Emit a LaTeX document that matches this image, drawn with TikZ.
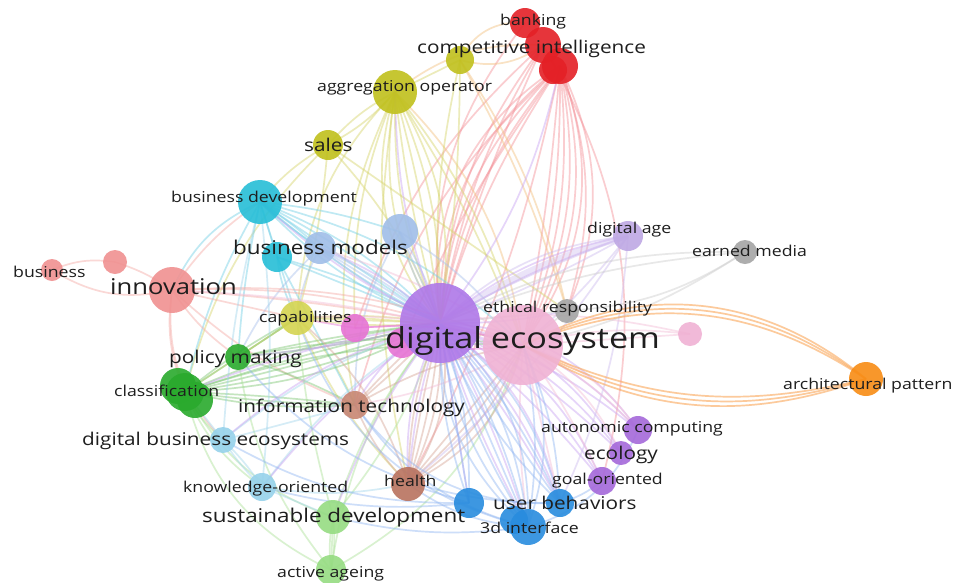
\documentclass[tikz,border=0pt]{standalone}
\usepackage{fontspec}
\setmainfont{Open Sans}[FakeStretch=1.18]
\definecolor{cRed}{RGB}{228,32,38}
\definecolor{cRedE}{RGB}{244,145,152}
\definecolor{cOlive}{RGB}{192,192,28}
\definecolor{cOliveL}{RGB}{212,212,80}
\definecolor{cOliveE}{RGB}{214,212,105}
\definecolor{cPeach}{RGB}{242,192,125}
\definecolor{cCyan}{RGB}{38,190,215}
\definecolor{cCyanE}{RGB}{115,208,230}
\definecolor{cSteel}{RGB}{160,190,232}
\definecolor{cSteelE}{RGB}{168,192,236}
\definecolor{cSalmon}{RGB}{240,145,145}
\definecolor{cSalmonE}{RGB}{245,170,165}
\definecolor{cGreen}{RGB}{42,170,45}
\definecolor{cGreenE}{RGB}{125,198,115}
\definecolor{cLGreen}{RGB}{150,220,130}
\definecolor{cLGreenE}{RGB}{172,226,152}
\definecolor{cLCyan}{RGB}{150,210,235}
\definecolor{cLCyanE}{RGB}{162,214,236}
\definecolor{cBrown}{RGB}{185,115,95}
\definecolor{cBrownL}{RGB}{200,135,115}
\definecolor{cBrownE}{RGB}{214,165,150}
\definecolor{cBlue}{RGB}{40,140,222}
\definecolor{cBlueE}{RGB}{145,182,242}
\definecolor{cPurple}{RGB}{175,120,232}
\definecolor{cPurpleE}{RGB}{200,162,242}
\definecolor{cPink}{RGB}{240,178,212}
\definecolor{cPinkE}{RGB}{243,188,214}
\definecolor{cMagenta}{RGB}{230,115,212}
\definecolor{cGray}{RGB}{165,165,165}
\definecolor{cGrayE}{RGB}{205,205,205}
\definecolor{cOrange}{RGB}{248,140,20}
\definecolor{cOrangeE}{RGB}{250,168,90}
\definecolor{cLav}{RGB}{190,168,228}
\definecolor{cLavE}{RGB}{205,188,238}
\definecolor{cViolet}{RGB}{165,105,218}
\definecolor{txt}{RGB}{30,30,30}
\newcommand\lkb[4]{\foreach \bb in {#4}{\draw[lnk=#1] (#2) to[bend left=\bb] (#3);}}
\begin{document}
\begin{tikzpicture}[x=1pt,y=-1pt,
  lnk/.style={draw=#1,line width=1.7pt,draw opacity=0.45},
  bub/.style 2 args={circle,inner sep=0pt,minimum size=#1,fill=#2,fill opacity=0.9,draw=none},
  lb/.style={anchor=base west,inner sep=0pt,text=txt},
  fsa/.style={font=\fontsize{15}{18}\selectfont},
  fsb/.style={font=\fontsize{17.6}{20}\selectfont},
  fsc/.style={font=\fontsize{19}{22}\selectfont},
  fsd/.style={font=\fontsize{21.7}{25}\selectfont},
  fse/.style={font=\fontsize{29}{33}\selectfont}]
\useasboundingbox[fill=white] (0,0) rectangle (956,582);
% ---------- positions ----------
\coordinate (de1) at (440,323);
\coordinate (de2) at (523,345);
\coordinate (mg1) at (355,328);
\coordinate (mg2) at (402,343);
\coordinate (er) at (567,311);
\coordinate (pr) at (690,334);
\coordinate (da) at (628,236);
\coordinate (em) at (745,252);
\coordinate (ap) at (866,379);
\coordinate (ac) at (638,430);
\coordinate (ec) at (621,453);
\coordinate (go) at (602,481);
\coordinate (ub) at (560,503);
\coordinate (td) at (528,527);
\coordinate (bl) at (469,503);
\coordinate (he) at (408,484);
\coordinate (sd) at (333,517);
\coordinate (aa) at (331,570);
\coordinate (ko) at (262,487);
\coordinate (dbe) at (223,440);
\coordinate (it) at (355,405);
\coordinate (cl) at (185,392);
\coordinate (pm) at (238,357);
\coordinate (cap) at (297,318);
\coordinate (inn) at (172,290);
\coordinate (bus) at (52,270);
\coordinate (s2) at (115,262);
\coordinate (bm) at (320,248);
\coordinate (lb2) at (400,232);
\coordinate (cy2) at (277,257);
\coordinate (bd) at (260,202);
\coordinate (sa) at (328,145);
\coordinate (ag) at (395,92);
\coordinate (y3) at (460,60);
\coordinate (ci) at (543,45);
\coordinate (bk) at (525,23);
\coordinate (r3) at (560,66);
% ---------- links ----------
% red cluster
\lkb{cRedE}{r3}{de1}{-8,-14,-20,-26,-32}
\lkb{cRedE}{r3}{de2}{3,8,13,18,23,28}
\lkb{cRedE}{r3}{er}{18,24}
\lkb{cRedE}{ci}{de1}{-4,-10,-16}
\lkb{cRedE}{ci}{mg1}{-14}
\lkb{cRedE}{bk}{de1}{-22}
\lkb{cRedE}{r3}{he}{8}
\lkb{cRedE}{r3}{it}{-16}
\lkb{cRedE}{ci}{go}{22}
\lkb{cRedE}{r3}{mg2}{-6}
% olive / peach
\lkb{cPeach}{y3}{bk}{35}
\lkb{cPeach}{y3}{ci}{-25}
\lkb{cPeach}{ag}{ci}{20}
\lkb{cPeach}{y3}{er}{6,10}
\lkb{cPeach}{ag}{de2}{18}
\lkb{cOliveE}{ag}{y3}{0}
\lkb{cOliveE}{ag}{sa}{-10,10}
\lkb{cOliveE}{ag}{de1}{-28,-20,-12,-4,4,12,20}
\lkb{cOliveE}{ag}{de2}{6,11}
\lkb{cOliveE}{ag}{cap}{-20}
\lkb{cOliveE}{ag}{it}{-18}
\lkb{cOliveE}{ag}{he}{-10}
\lkb{cOliveE}{ag}{mg1}{-12}
\lkb{cOliveE}{y3}{de1}{-8,4}
\lkb{cOliveE}{sa}{bd}{-10}
\lkb{cOliveE}{sa}{cap}{5}
\lkb{cOliveE}{sa}{er}{0}
\lkb{cOliveE}{sa}{de1}{10}
\lkb{cOliveE}{sa}{cl}{-15}
\lkb{cOliveE}{cap}{de1}{-6,0,6}
\lkb{cOliveE}{cap}{cl}{0}
\lkb{cOliveE}{cap}{pm}{0}
\lkb{cOliveE}{cap}{it}{10}
\lkb{cOliveE}{cap}{he}{-10}
\lkb{cOliveE}{cap}{de2}{8}
% cyan
\lkb{cCyanE}{bd}{de1}{-12,-6,0,6,12}
\lkb{cCyanE}{bd}{bm}{-4,4}
\lkb{cCyanE}{bd}{cy2}{0}
\lkb{cCyanE}{bd}{lb2}{6}
\lkb{cCyanE}{bd}{de2}{14}
\lkb{cCyanE}{bd}{inn}{-20}
\lkb{cCyanE}{bd}{cl}{-8}
\lkb{cCyanE}{bd}{cap}{0}
\lkb{cCyanE}{bd}{pm}{-4}
\lkb{cCyanE}{cy2}{de1}{0,6}
\lkb{cCyanE}{cy2}{cap}{-10}
\lkb{cCyanE}{cy2}{it}{0}
% steel blue
\lkb{cSteelE}{bm}{de1}{-6,0,6}
\lkb{cSteelE}{lb2}{de1}{-8,0,8}
\lkb{cSteelE}{lb2}{de2}{10}
\lkb{cSteelE}{lb2}{it}{-15}
\lkb{cSteelE}{bm}{cap}{-10}
\lkb{cSteelE}{bm}{pm}{-10}
% salmon
\lkb{cSalmonE}{bus}{s2}{15}
\lkb{cSalmonE}{bus}{inn}{-22}
\lkb{cSalmonE}{s2}{inn}{8}
\lkb{cSalmonE}{inn}{de1}{3,9}
\lkb{cSalmonE}{inn}{cap}{0}
\lkb{cSalmonE}{inn}{cl}{-15}
\lkb{cSalmonE}{inn}{pm}{-10}
\lkb{cSalmonE}{inn}{dbe}{-25}
\lkb{cSalmonE}{inn}{bd}{10}
\lkb{cSalmonE}{inn}{it}{-10}
\lkb{cSalmonE}{inn}{de2}{12}
% green
\lkb{cGreenE}{cl}{de1}{-12,-7,-2,3,8}
\lkb{cGreenE}{cl}{it}{-8,-3,2}
\lkb{cGreenE}{cl}{pm}{0}
\lkb{cGreenE}{pm}{de1}{-4,3}
\lkb{cGreenE}{pm}{cap}{0}
\lkb{cGreenE}{cl}{cap}{5}
\lkb{cGreenE}{cl}{de2}{10}
\lkb{cGreenE}{pm}{it}{5}
\lkb{cGreenE}{pm}{de2}{8}
\lkb{cLGreenE}{cl}{dbe}{-10}
\lkb{cLGreenE}{cl}{ko}{-15}
\lkb{cLGreenE}{cl}{sd}{-20}
% light green
\lkb{cLGreenE}{sd}{aa}{-8,0,8}
\lkb{cLGreenE}{sd}{de1}{-10,10}
\lkb{cLGreenE}{sd}{cap}{5}
\lkb{cLGreenE}{aa}{de1}{15}
\lkb{cLGreenE}{aa}{cl}{25}
\lkb{cLGreenE}{aa}{de2}{-20}
\lkb{cLGreenE}{aa}{pm}{15}
% light cyan
\lkb{cLCyanE}{dbe}{ko}{-6,6}
\lkb{cLCyanE}{dbe}{cl}{0}
\lkb{cLCyanE}{dbe}{de1}{10}
\lkb{cLCyanE}{ko}{de1}{10}
\lkb{cLCyanE}{ko}{sd}{0}
\lkb{cLCyanE}{dbe}{it}{0}
\lkb{cLCyanE}{bd}{dbe}{-5}
\lkb{cLCyanE}{bd}{ko}{6}
\lkb{cLCyanE}{ko}{he}{-10}
% brown
\lkb{cBrownE}{it}{de1}{-4,4}
\lkb{cBrownE}{he}{de1}{-22,-14,-6,2,10}
\lkb{cBrownE}{he}{de2}{-24,-16,-8,0}
\lkb{cBrownE}{he}{it}{10}
\lkb{cBrownE}{it}{de2}{10}
\lkb{cBrownE}{he}{cap}{-15}
% purple
\lkb{cPurpleE}{de1}{da}{6,14}
\lkb{cPurpleE}{de1}{ac}{10,18,26}
\lkb{cPurpleE}{de1}{ec}{8,16,24}
\lkb{cPurpleE}{de1}{go}{6,14,22}
\lkb{cPurpleE}{de1}{ub}{4,12,20}
\lkb{cPurpleE}{de1}{td}{-5,5}
\lkb{cPurpleE}{de1}{bl}{0}
\lkb{cPurpleE}{de1}{pm}{4}
\lkb{cPurpleE}{de1}{cl}{-6}
\lkb{cPurpleE}{de1}{he}{-14,-6}
\lkb{cPurpleE}{de1}{sd}{-8}
\lkb{cPurpleE}{de1}{dbe}{-12}
\lkb{cPurpleE}{de1}{bm}{-10}
\lkb{cPurpleE}{de1}{bd}{8}
\lkb{cPurpleE}{de1}{ag}{10}
\lkb{cPurpleE}{de1}{r3}{-12}
\lkb{cPurpleE}{de1}{er}{-6}
\lkb{cPurpleE}{de1}{ko}{-8}
\lkb{cPurpleE}{de1}{it}{-15}
% lavender (digital age)
\draw[lnk=cLavE,line width=6pt,draw opacity=0.4] (da) to[bend right=9] (de1);
\lkb{cLavE}{da}{de1}{-18,4}
\lkb{cLavE}{da}{mg2}{-5}
\lkb{cLavE}{da}{de2}{5}
\lkb{cLavE}{da}{he}{8}
\lkb{cLavE}{da}{ub}{10}
% pink (de2)
\lkb{cPinkE}{de2}{pr}{0,10}
\lkb{cPinkE}{de2}{ac}{10,18}
\lkb{cPinkE}{de2}{ec}{15}
\lkb{cPinkE}{de2}{go}{5}
\lkb{cPinkE}{de2}{ub}{0}
\lkb{cPinkE}{de2}{td}{-6}
\lkb{cPinkE}{de2}{cap}{-10}
\lkb{cPinkE}{de2}{bm}{-8}
\lkb{cPinkE}{de2}{it}{10}
\lkb{cPinkE}{pr}{de1}{-10}
\lkb{cPinkE}{de2}{inn}{-6}
% blue
\lkb{cBlueE}{td}{de1}{-25,-16,-8,0,8,16,25}
\lkb{cBlueE}{ub}{de1}{-18,-8,2,12}
\lkb{cBlueE}{bl}{de1}{-10,0,10}
\lkb{cBlueE}{td}{de2}{-10,-20}
\lkb{cBlueE}{ub}{de2}{-10}
\lkb{cBlueE}{td}{it}{20}
\lkb{cBlueE}{ub}{it}{28}
\lkb{cBlueE}{bl}{he}{0}
\lkb{cBlueE}{td}{he}{15}
\lkb{cBlueE}{td}{sd}{10}
\lkb{cBlueE}{bl}{ko}{10}
\lkb{cBlueE}{td}{cap}{28}
\lkb{cBlueE}{ub}{pm}{25}
\lkb{cBlueE}{bl}{dbe}{15}
\lkb{cBlueE}{td}{ac}{-25}
\lkb{cBlueE}{ub}{go}{-10}
% magenta
\lkb{cMagenta}{mg1}{de1}{0}
\lkb{cMagenta}{mg1}{cap}{0}
\lkb{cMagenta}{mg2}{de2}{-8}
\lkb{cMagenta}{mg1}{de2}{10}
% gray
\lkb{cGrayE}{em}{de1}{-8,-14}
\lkb{cGrayE}{em}{de2}{10}
\lkb{cGrayE}{em}{er}{14}
\lkb{cGrayE}{er}{de1}{0}
\lkb{cGrayE}{er}{de2}{0}
% orange
\foreach \b in {28,31,34} \draw[lnk=cOrangeE,draw opacity=0.6] (ap) to[bend right=\b] (de2);
\foreach \b in {19,22,25} \draw[lnk=cOrangeE,draw opacity=0.6] (ap) to[bend left=\b] (de2);
% ---------- bubbles ----------
\node[bub={36pt}{cRed}] (n-r3) at (r3) {};
\node[bub={28pt}{cRed}] (n-r3b) at (553,70) {};
\node[bub={36pt}{cRed}] (n-ci) at (ci) {};
\node[bub={30pt}{cRed}] (n-bk) at (bk) {};
\node[bub={28pt}{cOlive}] (n-y3) at (y3) {};
\node[bub={44pt}{cOlive}] (n-ag) at (ag) {};
\node[bub={30pt}{cOlive}] (n-sa) at (sa) {};
\node[bub={44pt}{cCyan}] (n-bd) at (bd) {};
\node[bub={30pt}{cCyan}] (n-cy2) at (cy2) {};
\node[bub={32pt}{cSteel}] (n-bm) at (bm) {};
\node[bub={36pt}{cSteel}] (n-lb2) at (lb2) {};
\node[bub={22pt}{cSalmon}] (n-bus) at (bus) {};
\node[bub={24pt}{cSalmon}] (n-s2) at (s2) {};
\node[bub={46pt}{cSalmon}] (n-inn) at (inn) {};
\node[bub={34pt}{cOliveL}] (n-cap) at (cap) {};
\node[bub={26pt}{cGreen}] (n-pm) at (pm) {};
\node[bub={36pt}{cGreen}] (n-cla) at (178,386) {};
\node[bub={36pt}{cGreen}] (n-clb) at (195,400) {};
\node[bub={38pt}{cGreen}] (n-cl) at (cl) {};
\node[bub={28pt}{cBrownL}] (n-it) at (it) {};
\node[bub={26pt}{cLCyan}] (n-dbe) at (dbe) {};
\node[bub={28pt}{cLCyan}] (n-ko) at (ko) {};
\node[bub={34pt}{cBrown}] (n-he) at (he) {};
\node[bub={34pt}{cLGreen}] (n-sd) at (sd) {};
\node[bub={30pt}{cLGreen}] (n-aa) at (aa) {};
\node[bub={30pt}{cBlue}] (n-bl) at (bl) {};
\node[bub={28pt}{cBlue}] (n-tdb) at (514,520) {};
\node[bub={36pt}{cBlue}] (n-td) at (td) {};
\node[bub={28pt}{cBlue}] (n-ub) at (ub) {};
\node[bub={28pt}{cViolet}] (n-go) at (go) {};
\node[bub={24pt}{cViolet}] (n-ec) at (ec) {};
\node[bub={28pt}{cViolet}] (n-ac) at (ac) {};
\node[bub={34pt}{cOrange}] (n-ap) at (ap) {};
\node[bub={24pt}{cGray}] (n-em) at (em) {};
\node[bub={30pt}{cLav}] (n-da) at (da) {};
\node[bub={24pt}{cPink}] (n-pr) at (pr) {};
\node[bub={80pt}{cPink}] (n-de2) at (de2) {};
\node[bub={30pt}{cMagenta}] (n-mg2) at (mg2) {};
\node[bub={80pt}{cPurple}] (n-de1) at (de1) {};
\node[bub={28pt}{cMagenta}] (n-mg1) at (mg1) {};
\node[bub={24pt}{cGray}] (n-er) at (er) {};
% ---------- labels ----------
\node[lb,fsa] (t-bk) at (500,25) {banking};
\node[lb,fsb] (t-ci) at (417,53) {competitive intelligence};
\node[lb,fsa] (t-ag) at (317,91) {aggregation operator};
\node[lb,fsb] (t-sa) at (304,151) {sales};
\node[lb,fsa] (t-bd) at (171,202) {business development};
\node[lb,fsc] (t-bm) at (233,254) {business models};
\node[lb,fsa] (t-bus) at (13,277) {business};
\node[lb,fsd] (t-inn) at (110,294) {innovation};
\node[lb,fsa] (t-cap) at (259,322) {capabilities};
\node[lb,fsb] (t-pm) at (169,363) {policy making};
\node[lb,fsa] (t-cl) at (114,396) {classification};
\node[lb,fsb] (t-it) at (238,412) {information technology};
\node[lb,fsb] (t-dbe) at (82,445) {digital business ecosystems};
\node[lb,fsa] (t-ko) at (183,492) {knowledge-oriented};
\node[lb,fsa] (t-he) at (384,486) {health};
\node[lb,fsc] (t-sd) at (202,522) {sustainable development};
\node[lb,fsa] (t-aa) at (277,577) {active ageing};
\node[lb,fse] (t-de) at (385,348) {digital ecosystem};
\node[lb,fsa] (t-er) at (483,312) {ethical responsibility};
\node[lb,fsa] (t-da) at (587,233) {digital age};
\node[lb,fsa] (t-em) at (692,256) {earned media};
\node[lb,fsa] (t-ap) at (783,389) {architectural pattern};
\node[lb,fsa] (t-ac) at (541,432) {autonomic computing};
\node[lb,fsb] (t-ec) at (584,459) {ecology};
\node[lb,fsa] (t-go) at (552,484) {goal-oriented};
\node[lb,fsb] (t-ub) at (493,509) {user behaviors};
\node[lb,fsa] (t-td) at (480,533) {3d interface};
\end{tikzpicture}
\end{document}
